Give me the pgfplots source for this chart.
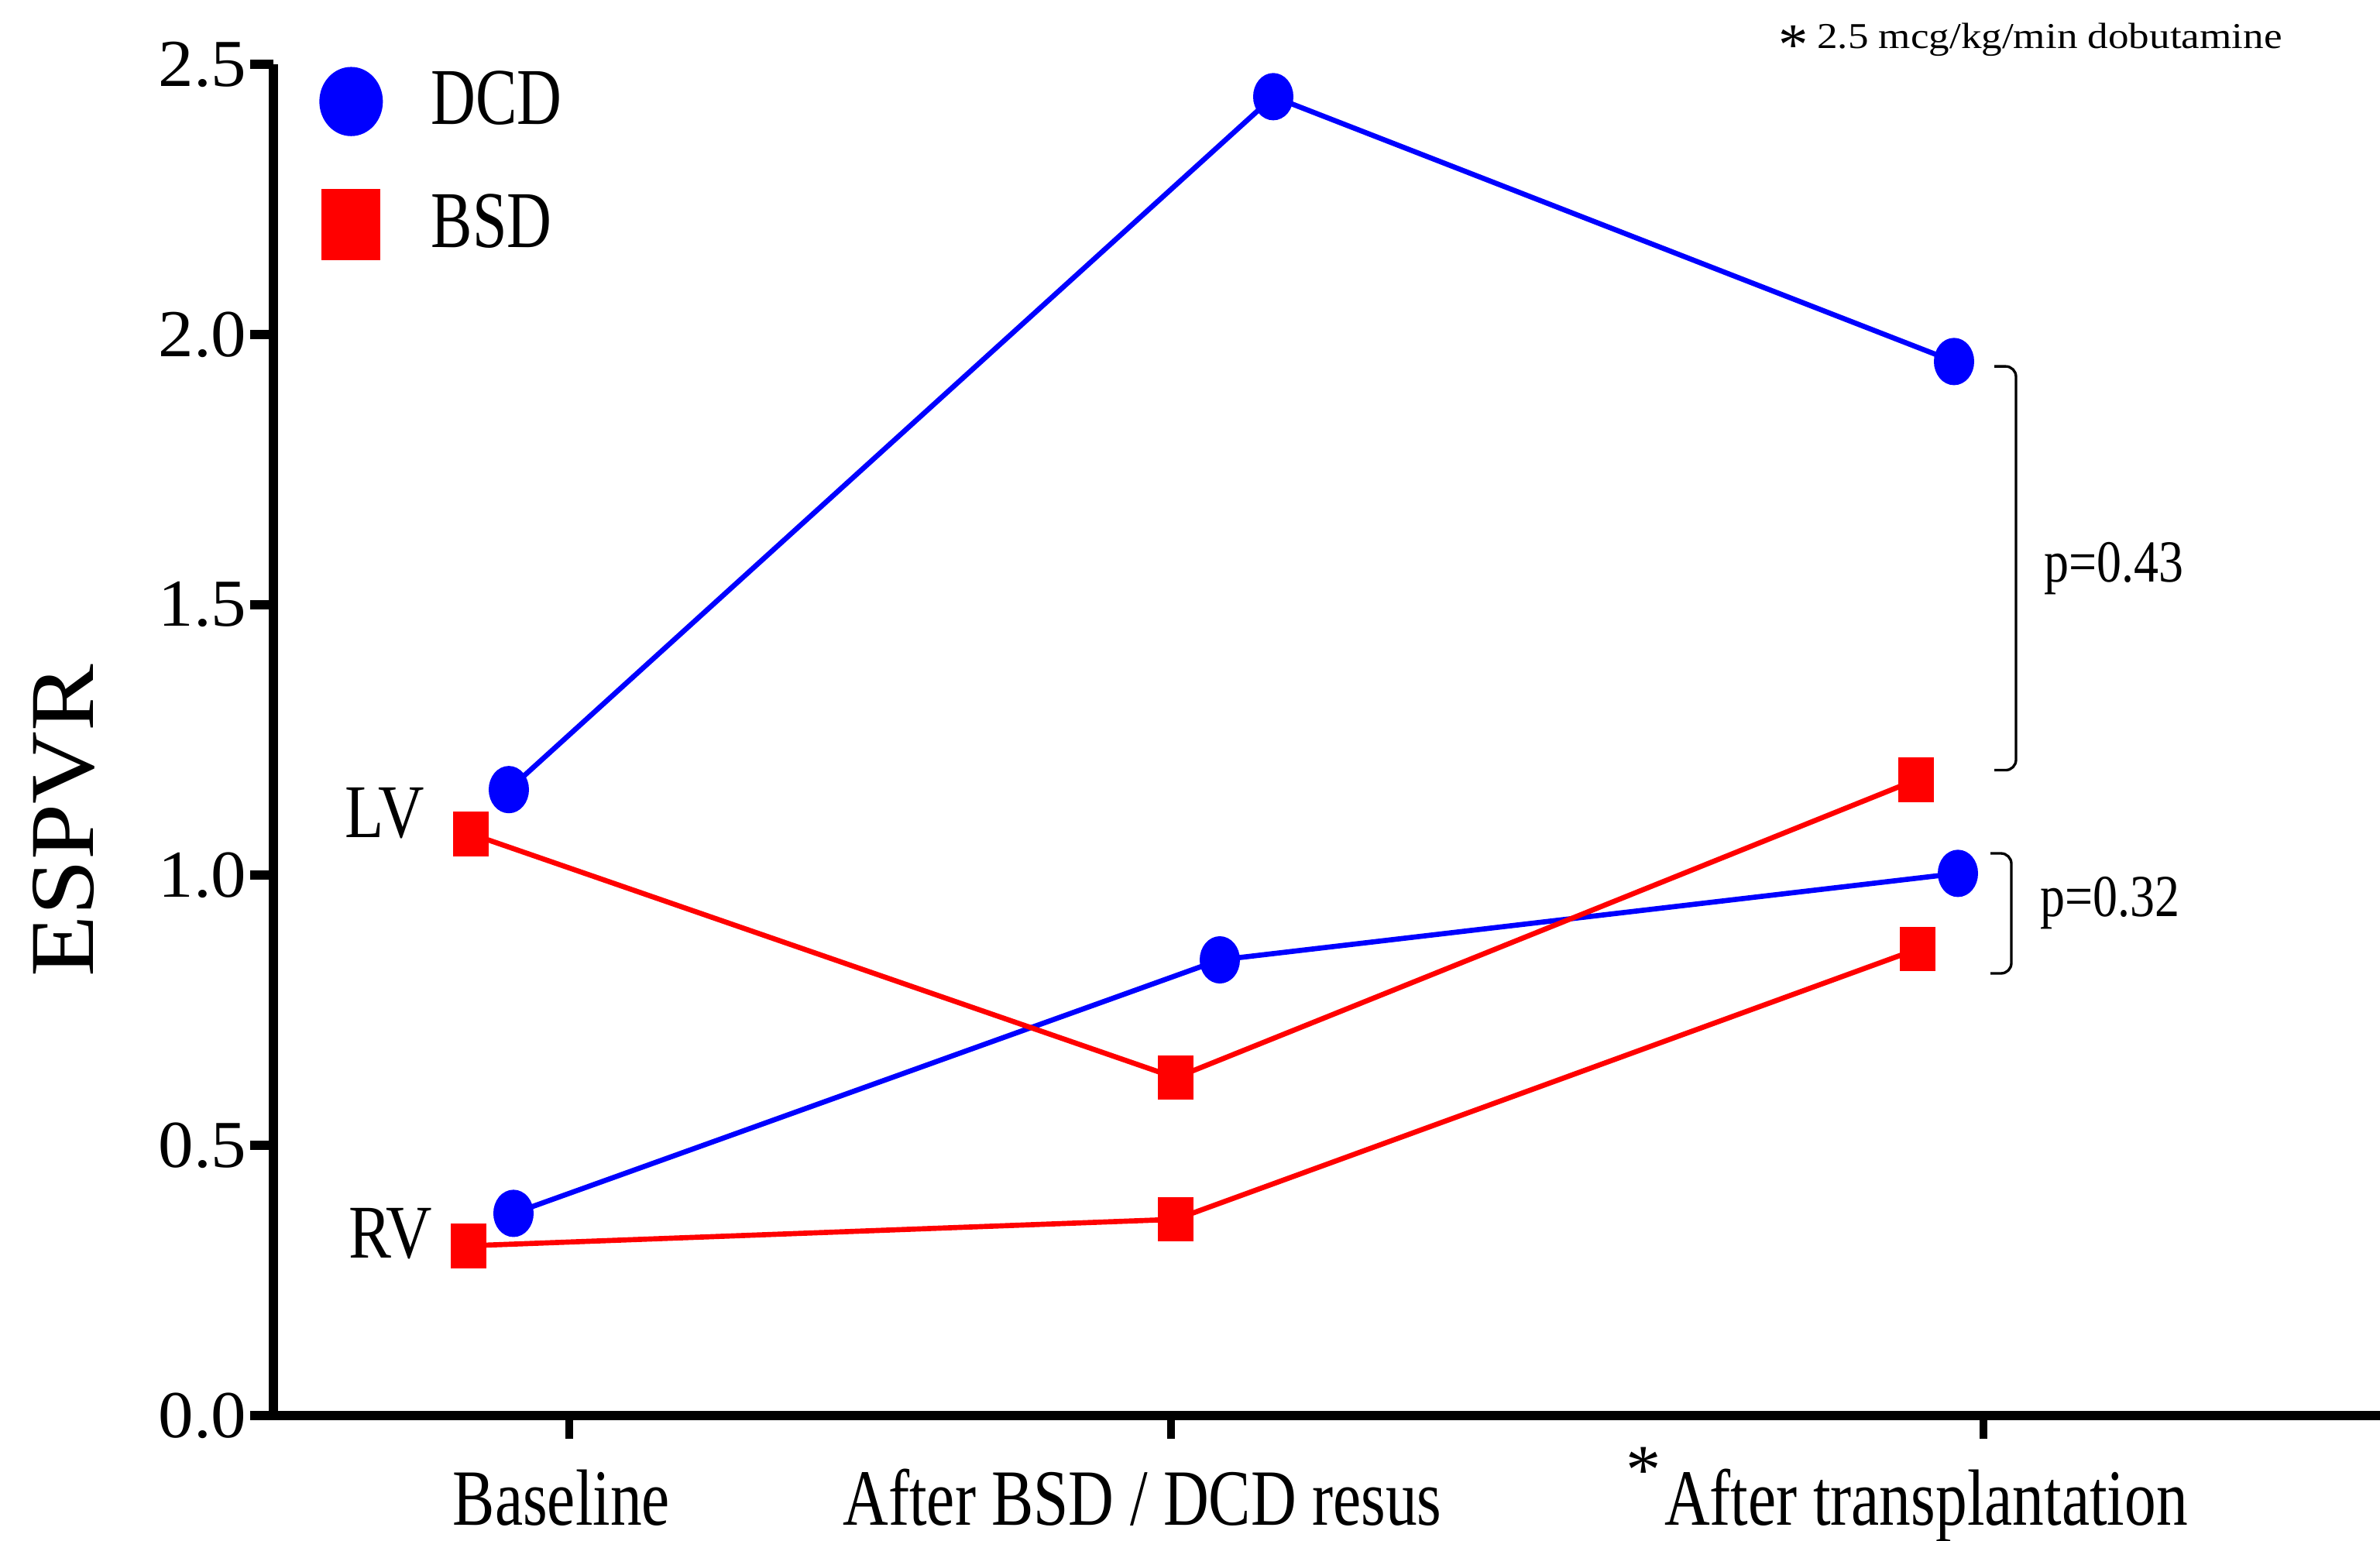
\documentclass[border=0pt]{standalone}
\usepackage{fontspec}
\setmainfont{Liberation Serif}
\newfontfamily\xlabf[FakeStretch=0.79]{Liberation Serif}
\newfontfamily\legf[FakeStretch=0.77]{Liberation Serif}
\newfontfamily\lvf[FakeStretch=0.84]{Liberation Serif}
\newfontfamily\pf[FakeStretch=0.83]{Liberation Serif}
\newfontfamily\ylabf[FakeStretch=1.1]{Liberation Serif}
\newfontfamily\notef[FakeStretch=1.13]{Liberation Serif}
\newfontfamily\ytf[FakeStretch=1.05]{Liberation Serif}
\usepackage{pgfplots}
\pgfplotsset{compat=1.18}

\begin{document}
\begin{tikzpicture}
\useasboundingbox (-52.95pt,-24.3pt) rectangle (408pt,274.2pt);
\begin{axis}[
  scale only axis, width=408pt, height=261.75pt,
  xmin=353, xmax=3073, ymin=0, ymax=2.5,
  axis x line*=bottom, axis y line*=left,
  axis line style={line width=1.8pt,-},
  xtick={735,1512,2561}, xticklabels={},
  ytick={0,0.5,1,1.5,2,2.5}, yticklabels={0.0,0.5,1.0,1.5,2.0,2.5},
  tick align=outside, major tick length=4.5pt,
  xtick style={black,line width=1.5pt},
  ytick style={black,line width=1.9pt},
  yticklabel style={font=\ytf\fontsize{13}{15}\selectfont, inner sep=0.5pt},
  clip=false,
  legend style={at={(0.0217,0.998)}, anchor=north west, draw=none, fill=none,
    inner sep=0pt, outer sep=0pt, row sep=10.25pt, column sep=9.3pt,
    nodes={inner sep=0pt, font=\legf\fontsize{15.6}{18}\selectfont}},
  legend cell align=left,
]
\addlegendimage{legend image code/.code={\path[draw=none,fill=none] (-6.2pt,-6.7pt) rectangle (6.2pt,6.7pt); \fill[blue,draw=none] (0,0) ellipse [x radius=6.15pt, y radius=6.7pt];}}
\addlegendentry{DCD}
\addlegendimage{legend image code/.code={\path[draw=none,fill=none] (-6.2pt,-6.9pt) rectangle (6.2pt,6.9pt); \fill[red,draw=none] (-5.7pt,-6.9pt) rectangle (5.7pt,6.9pt);}}
\addlegendentry{BSD}

% DCD LV
\addplot[blue, line width=1pt, mark=*, mark size=3.4pt, mark options={yscale=1.2}, forget plot]
  coordinates {(657,1.158) (1644,2.44) (2523,1.95)};
% DCD RV
\addplot[blue, line width=1pt, mark=*, mark size=3.4pt, mark options={yscale=1.2}, forget plot]
  coordinates {(663,0.374) (1575,0.843) (2528,1.003)};
% BSD LV
\addplot[red, line width=1pt, mark=square*, mark size=3pt, mark options={yscale=1.27}, forget plot]
  coordinates {(608,1.076) (1518,0.625) (2474,1.176)};
% BSD RV
\addplot[red, line width=1pt, mark=square*, mark size=3pt, mark options={yscale=1.27}, forget plot]
  coordinates {(605,0.314) (1518,0.363) (2476,0.863)};

\node[font=\lvf\fontsize{14.7}{17}\selectfont, inner sep=0pt] at (axis cs:497,1.114) {LV};
\node[font=\lvf\fontsize{14.7}{17}\selectfont, inner sep=0pt] at (axis cs:504,0.336) {RV};

\draw[line width=0.5pt, rounded corners=2pt] (axis cs:2575,1.941) -- (axis cs:2603,1.941) -- (axis cs:2603,1.194) -- (axis cs:2575,1.194);
\draw[line width=0.5pt, rounded corners=2pt] (axis cs:2570,1.04) -- (axis cs:2597,1.04) -- (axis cs:2597,0.818) -- (axis cs:2570,0.818);
\node[anchor=west, inner sep=0pt, font=\pf\fontsize{11.55}{14}\selectfont] at (axis cs:2638,1.567) {p=0.43};
\node[anchor=west, inner sep=0pt, font=\pf\fontsize{11.55}{14}\selectfont] at (axis cs:2633,0.948) {p=0.32};
\end{axis}

\begin{scope}[x=0.15pt,y=-0.15pt,shift={(-52.95pt,274.2pt)}]
  \node[anchor=base, inner sep=0pt, font=\xlabf\fontsize{15.45}{18}\selectfont] at (725,1970) {Baseline};
  \node[anchor=base, inner sep=0pt, font=\xlabf\fontsize{15.45}{18}\selectfont] at (1475,1970) {After BSD / DCD resus};
  \node[anchor=base, inner sep=0pt, font=\xlabf\fontsize{15.45}{18}\selectfont] at (2487,1970) {After transplantation};
  \node[inner sep=0pt, font=\fontsize{13.6}{15}\selectfont] at (2122,1899) {*};
  \node[rotate=90, inner sep=0pt, font=\ylabf\fontsize{17.7}{20}\selectfont] at (82,1060) {ESPVR};
  \node[inner sep=0pt, font=\fontsize{11.5}{13}\selectfont] at (2316,58) {*};
  \node[anchor=base west, inner sep=0pt, font=\notef\fontsize{7.05}{9}\selectfont] at (2345,63) {2.5 mcg/kg/min dobutamine};
\end{scope}
\end{tikzpicture}
\end{document}
